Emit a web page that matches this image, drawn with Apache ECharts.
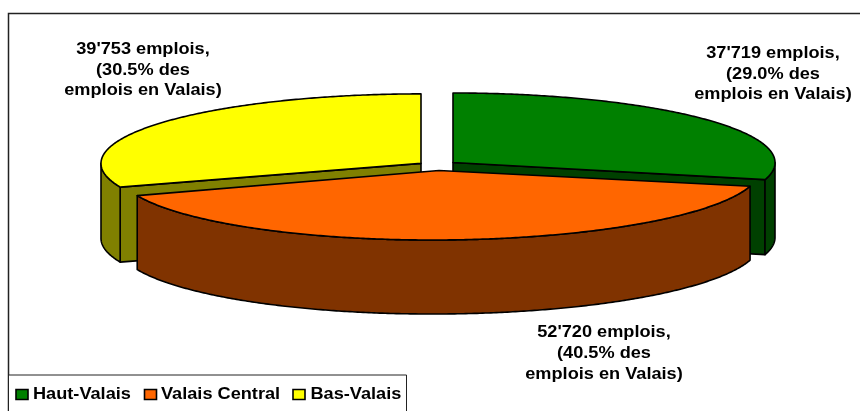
<!DOCTYPE html>
<html>
<head>
<meta charset="utf-8">
<style>html,body{margin:0;padding:0;background:#fff}#c{width:860px;height:411px}</style>
<script src="https://cdn.jsdelivr.net/npm/echarts@6/dist/echarts.min.js"></script>
</head>
<body>
<div id="c"></div>
<script>
// Data
const regions = ['Haut-Valais', 'Valais Central', 'Bas-Valais'];
const jobs = [37719, 52720, 39753];

// Style and layout
const topColors = ['#008000', '#FF6600', '#FFFF00'];
const sideColors = ['#004000', '#803300', '#808000'];
const apexes = [[453, 162.5], [439, 170.5], [421, 163.4]];
const radiiX = [322, 321, 320];
const tilts = [0, -1.5, 0];
const depths = [75, 74, 75];
const labelAnchors = [[773, 43], [604, 322.5], [143, 39]];
const legendIconX = [16, 144.5, 293];
const legendTextX = [33, 161, 310.5];
const drawOrder = [1, 3, 2];   // z per slice: green above yellow, orange on top
const RY = 69.5, STRETCH = 1.135;
const FONT = 'bold 16px "Liberation Sans", Arial, sans-serif';
const INK = '#000', FRAME = '#222';

const total = jobs.reduce((a, b) => a + b, 0);
const startAngles = [];
jobs.reduce((acc, v, i) => { startAngles[i] = acc; return acc + v / total * 360; }, 0);

const rim = (i, deg) => {
  const t = deg * Math.PI / 180;
  return [apexes[i][0] + radiiX[i] * Math.sin(t),
          apexes[i][1] - RY * Math.cos(t) + tilts[i] * Math.sin(t)];
};
const arc = (i, a, b) => {
  const pts = [], n = Math.max(2, Math.ceil(Math.abs(b - a) * 2));
  for (let k = 0; k <= n; k++) pts.push(rim(i, a + (b - a) * k / n));
  return pts;
};
const fmt = v => String(v).replace(/\B(?=(\d{3})+$)/g, "'");

function face(points, fill) {
  return {
    type: 'polygon',
    shape: { points },
    style: { fill, stroke: INK, lineWidth: 1.6, lineJoin: 'round' }
  };
}

function renderSlice(i) {
  const down = p => [p[0], p[1] + depths[i]];
  const a = startAngles[i], b = a + jobs[i] / total * 360;
  const kids = [];
  const sinA = Math.sin(a * Math.PI / 180), sinB = Math.sin(b * Math.PI / 180);
  const apex = apexes[i];
  // flat cut faces that turn toward the viewer
  if (sinA < -1e-6) {
    const p = rim(i, a);
    kids.push(face([apex, p, down(p), down(apex)], sideColors[i]));
  }
  if (sinB > 1e-6) {
    const p = rim(i, b);
    kids.push(face([apex, p, down(p), down(apex)], sideColors[i]));
  }
  // curved outer wall, front half only
  const lo = Math.max(a, 90), hi = Math.min(b, 270);
  if (hi > lo) {
    const edge = arc(i, lo, hi);
    kids.push(face(edge.concat(edge.slice().reverse().map(down)), sideColors[i]));
  }
  // top face
  kids.push(face([apex].concat(arc(i, a, b)), topColors[i]));
  // label
  const pct = (jobs[i] / total * 100).toFixed(1);
  kids.push({
    type: 'text',
    x: labelAnchors[i][0], y: labelAnchors[i][1],
    scaleX: STRETCH,
    style: {
      text: fmt(jobs[i]) + ' emplois,\n(' + pct + '% des\nemplois en Valais)',
      x: 0, y: 0,
      align: 'center', verticalAlign: 'top',
      font: FONT, lineHeight: 20.8, fill: INK
    }
  });
  return { type: 'group', children: kids };
}

const legendParts = [{
  type: 'rect', z: 50, silent: true,
  shape: { x: 8.5, y: 375, width: 398, height: 60 },
  style: { fill: '#fff', stroke: FRAME, lineWidth: 1 }
}];
regions.forEach((name, i) => {
  legendParts.push({
    type: 'rect', z: 51, silent: true,
    shape: { x: legendIconX[i], y: 389.5, width: 12, height: 10 },
    style: { fill: topColors[i], stroke: INK, lineWidth: 1.6 }
  });
  legendParts.push({
    type: 'text', z: 51, silent: true,
    x: legendTextX[i], y: 395, scaleX: STRETCH,
    style: { text: name, x: 0, y: 0, align: 'left', verticalAlign: 'middle', font: FONT, fill: INK }
  });
});

const chart = echarts.init(document.getElementById('c'), null, { renderer: 'canvas' });
chart.setOption({
  animation: false,
  backgroundColor: '#fff',
  graphic: [{
    type: 'rect', z: -10, silent: true,
    shape: { x: 8.5, y: 13.5, width: 900, height: 450 },
    style: { fill: '#fff', stroke: FRAME, lineWidth: 1.5 }
  }].concat(legendParts),
  series: regions.map((name, i) => ({
    type: 'custom',
    name,
    coordinateSystem: 'none',
    z: drawOrder[i] + 1,
    silent: true,
    itemStyle: { color: topColors[i] },
    data: [[jobs[i]]],
    renderItem: () => renderSlice(i)
  }))
});
</script>
</body>
</html>
